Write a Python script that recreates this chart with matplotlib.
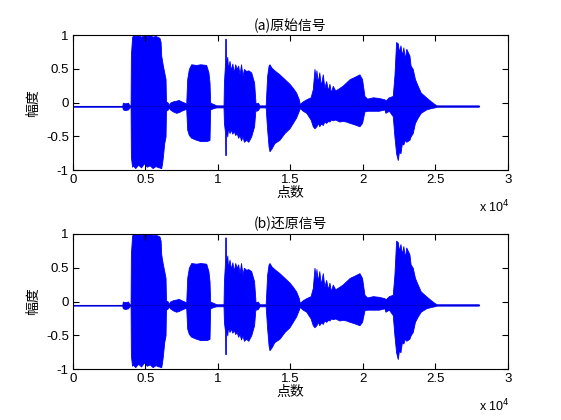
import numpy as np
import matplotlib
matplotlib.use('Agg')
import matplotlib.pyplot as plt
from matplotlib.ticker import FixedLocator

plt.rcParams['font.family'] = ['Liberation Sans', 'Noto Sans CJK SC', 'DejaVu Sans']

# %% Data: envelope of the speech waveform (sample index, upper, lower)
N_SAMPLES = 28000
BASELINE = -0.055

env_x = [0, 3400, 3450, 3600, 3800, 3900, 3977,
         4000, 4080, 4140, 4300, 4500, 4700, 4900, 5100, 5300, 5500, 5700, 5900, 5977,
         6050, 6092, 6150, 6207, 6300, 6391, 6420, 6552, 6600, 6700, 6900, 7126, 7300, 7471, 7700, 7816,
         7885, 8000, 8161, 8500, 8800, 9195, 9350, 9425, 9470, 9700, 9885,
         10391, 10420, 10500, 10529, 10560, 10650, 10700, 10805, 10900, 11000, 11100, 11200, 11300,
         11400, 11500, 11600, 11700, 11800, 11954,
         12100, 12299, 12500, 12598, 12644, 12760, 12874, 13300,
         13402, 13500, 13563, 13700, 13900, 14253, 14600, 14943, 15172, 15400, 15586, 15650,
         15862, 16100, 16400, 16552, 16667, 16750, 16800, 16900, 17000, 17100, 17241, 17350, 17471,
         17600, 17700, 17800, 17931, 18100, 18391,
         18600, 18851, 19100, 19400, 19770, 19950, 20115, 20300, 20700, 21100, 21494,
         21563, 21800, 22069, 22184, 22300, 22414, 22500, 22600, 22700, 22800, 22900, 23000, 23218,
         23300, 23448, 23600, 23793,
         24000, 24368, 24700, 24943, 25100, 28000]
env_hi = [-0.05, -0.05, 0.0, -0.01, 0.0, -0.04, -0.04,
          0.70, 0.97, 1.00, 0.99, 1.00, 0.98, 1.00, 0.99, 1.00, 0.98, 0.99, 0.97, 0.96,
          0.90, 0.70, 0.62, 0.55, 0.45, 0.35, 0.02, 0.00, -0.04, 0.00, 0.02, 0.03, 0.04, 0.02, 0.00, -0.02,
          0.35, 0.50, 0.57, 0.56, 0.57, 0.56, 0.45, 0.30, 0.00, -0.02, -0.04,
          -0.04, 0.30, 0.60, 0.95, 0.55, 0.68, 0.50, 0.62, 0.48, 0.58, 0.45, 0.57, 0.50,
          0.55, 0.42, 0.57, 0.40, 0.50, 0.47,
          0.48, 0.45, 0.30, 0.00, -0.01, 0.00, -0.04, -0.04,
          0.40, 0.55, 0.57, 0.52, 0.48, 0.42, 0.35, 0.28, 0.22, 0.15, 0.05, -0.02,
          0.02, 0.05, 0.08, 0.20, 0.50, 0.35, 0.48, 0.30, 0.45, 0.25, 0.42, 0.22, 0.32,
          0.18, 0.28, 0.15, 0.25, 0.18, 0.22,
          0.25, 0.30, 0.35, 0.38, 0.42, 0.35, 0.10, 0.06, 0.08, 0.07, 0.05,
          0.03, 0.08, 0.10, 0.40, 0.90, 0.88, 0.75, 0.85, 0.70, 0.82, 0.65, 0.80, 0.70,
          0.55, 0.50, 0.35, 0.25,
          0.15, 0.08, 0.02, -0.02, -0.04, -0.04]
env_lo = [-0.06, -0.06, -0.10, -0.11, -0.10, -0.07, -0.07,
          -0.80, -0.95, -0.93, -0.97, -0.92, -0.96, -0.90, -0.95, -0.93, -0.97, -0.94, -0.96, -0.96,
          -0.97, -0.97, -0.90, -0.80, -0.60, -0.50, -0.12, -0.10, -0.07, -0.10, -0.13, -0.15, -0.14, -0.12, -0.10, -0.09,
          -0.40, -0.48, -0.52, -0.55, -0.57, -0.57, -0.56, -0.55, -0.10, -0.08, -0.07,
          -0.07, -0.30, -0.45, -0.78, -0.40, -0.50, -0.38, -0.45, -0.40, -0.46, -0.42, -0.48, -0.45,
          -0.52, -0.48, -0.56, -0.50, -0.58, -0.55,
          -0.58, -0.50, -0.35, -0.09, -0.12, -0.11, -0.07, -0.07,
          -0.40, -0.65, -0.72, -0.68, -0.60, -0.55, -0.45, -0.38, -0.30, -0.22, -0.12, -0.08,
          -0.12, -0.15, -0.25, -0.35, -0.38, -0.36, -0.35, -0.30, -0.35, -0.31, -0.33, -0.28, -0.30,
          -0.27, -0.28, -0.25, -0.26, -0.25, -0.28,
          -0.27, -0.28, -0.30, -0.32, -0.35, -0.30, -0.13, -0.12, -0.12, -0.12, -0.10,
          -0.15, -0.12, -0.20, -0.50, -0.75, -0.85, -0.72, -0.75, -0.60, -0.62, -0.55, -0.58, -0.55,
          -0.50, -0.45, -0.30, -0.22,
          -0.15, -0.10, -0.08, -0.07, -0.06, -0.06]

xticks = [0, 5000, 10000, 15000, 20000, 25000, 30000]
xtick_labels = ['0', '0.5', '1', '1.5', '2', '2.5', '3']
yticks = [-1, -0.5, 0, 0.5, 1]
ytick_labels = ['-1', '-0.5', '0', '0.5', '1']
titles = ['(a)原始信号', '(b)还原信号']

# %% Figure
fig = plt.figure(figsize=(5.61, 4.2), dpi=100, facecolor='white')
positions = [[0.130, 0.595, 0.775, 0.321], [0.130, 0.121, 0.775, 0.322]]
cjk = ['Noto Sans CJK SC', 'DejaVu Sans']

for pos, title in zip(positions, titles):
    ax = fig.add_axes(pos)
    ax.fill_between(env_x, env_lo, env_hi, color=(0, 0, 1), lw=0.6, edgecolor=(0, 0, 1))
    ax.plot([0, N_SAMPLES], [BASELINE, BASELINE], color=(0, 0, 0.8), lw=0.8)
    ax.set_xlim(0, 30000)
    ax.set_ylim(-1, 1)
    ax.xaxis.set_major_locator(FixedLocator(xticks))
    ax.set_xticklabels(xtick_labels)
    ax.set_yticks(yticks)
    ax.set_yticklabels(ytick_labels)
    ax.tick_params(direction='in', top=True, right=True, length=4, width=0.8,
                   labelsize=9.5, pad=3)
    for s in ax.spines.values():
        s.set_linewidth(0.8)
    ax.set_title(title, fontsize=10, pad=4, family=cjk)
    ax.set_xlabel('点数', fontsize=10, labelpad=0, family=cjk)
    ax.set_ylabel('幅度', fontsize=10, labelpad=4, family=cjk)
    ax.text(0.97, -0.21, r'x 10$^4$', transform=ax.transAxes, fontsize=9,
            ha='center', va='top')

fig.savefig('out.png', dpi=100)
